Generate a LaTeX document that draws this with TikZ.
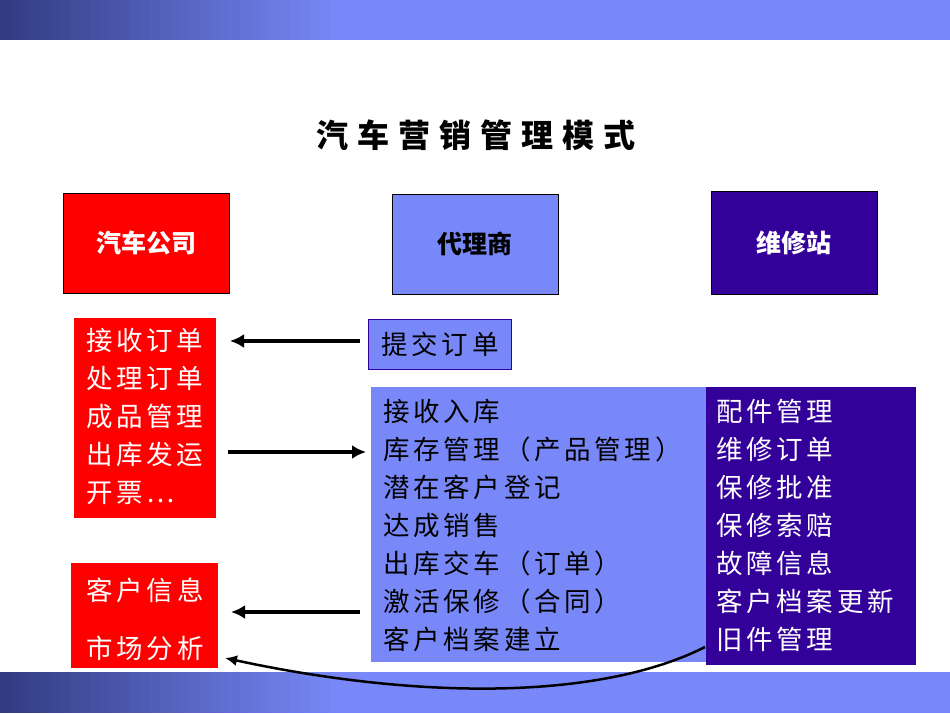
\documentclass[tikz,border=0pt]{standalone}
\usepackage{fontspec}
\newfontfamily\cjk{Noto Sans CJK SC}
\newfontfamily\cjkwide[LetterSpace=14]{Noto Sans CJK SC}
\usetikzlibrary{arrows.meta,positioning,shadows}
\definecolor{bandblue}{RGB}{120,136,248}
\definecolor{darkblue}{RGB}{51,0,153}
\definecolor{patblue}{RGB}{50,60,130}
\tikzset{
  headbox/.style={draw=black,line width=1pt,minimum width=166pt,minimum height=100pt,font=\cjk\bfseries\fontsize{25}{25}\selectfont},
  listtext/.style={align=left,font=\cjkwide\fontsize{26.5}{38}\selectfont,inner sep=0pt},
  bigarrow/.style={line width=4pt,-{Latex[length=14pt,width=14pt]}}
}
\begin{document}
\begin{tikzpicture}[x=1pt,y=-1pt]
  \useasboundingbox (0,0) rectangle (950,713);
  % bands
  \fill[bandblue] (0,0) rectangle (950,40);
  \fill[bandblue] (0,672) rectangle (950,713);
  \foreach \i in {0,...,32}{
    \pgfmathtruncatemacro\pct{100-3*\i}
    \fill[patblue!\pct!bandblue] (10*\i,0) rectangle (10*\i+10.5,40);
    \fill[patblue!\pct!bandblue] (10*\i,672) rectangle (10*\i+10.5,713);
  }
  % title
  \node (title) at (476,135) {\cjk\bfseries\fontsize{32}{32}\selectfont 汽\;车\;营\;销\;管\;理\;模\;式};
  % heads
  \node[headbox,fill=red,text=white] (company) at (146,243) {汽车公司};
  \node[headbox,fill=bandblue,text=black] (agent) at (475,244) {代理商};
  \node[headbox,fill=darkblue,text=white,minimum height=103pt] (repair) at (794,243) {维修站};
  % boxes
  \fill[red] (74,318) rectangle (216,518);
  \node[listtext,text=white,anchor=north west] (orders) at (86,328) {接收订单\\处理订单\\成品管理\\出库发运\\开票…};
  \node[draw=darkblue,fill=bandblue,minimum width=143pt,minimum height=50pt,font=\cjkwide\fontsize{26.5}{26.5}\selectfont] (submit) at (440,344) {提交订单};
  \fill[bandblue] (371,387) rectangle (706,662);
  \fill[darkblue] (706,387) rectangle (916,665);
  \node[listtext,anchor=north west] (tasks) at (383,399) {接收入库\\库存管理（产品管理）\\潜在客户登记\\达成销售\\出库交车（订单）\\激活保修（合同）\\客户档案建立};
  \node[listtext,text=white,anchor=north west] (service) at (716,399) {配件管理\\维修订单\\保修批准\\保修索赔\\故障信息\\客户档案更新\\旧件管理};
  \fill[red] (71,563) rectangle (218,668);
  \node[listtext,text=white] (info) at (145,590) {客户信息};
  \node[listtext,text=white] (market) at (145,648) {市场分析};
  % arrows
  \coordinate (a1) at (360,341); \coordinate (b1) at (230,341);
  \coordinate (a2) at (228,452); \coordinate (b2) at (366,452);
  \coordinate (a3) at (360,612); \coordinate (b3) at (231,612);
  \coordinate (a4) at (705,647); \coordinate (b4) at (225,658);
  \draw[bigarrow] (a1) -- (b1);
  \draw[bigarrow] (a2) -- (b2);
  \draw[bigarrow] (a3) -- (b3);
  \draw[line width=2.5pt,-{Latex[length=12pt,width=11pt]}] (a4) .. controls (600,700) and (420,700) .. (b4);
\end{tikzpicture}
\end{document}
